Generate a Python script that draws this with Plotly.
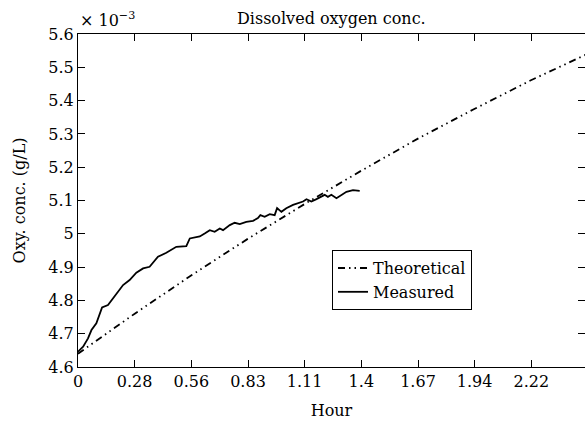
import plotly.graph_objects as go

# Theoretical curve (hours, g/L x 1e-3)
theo_hour = [0, 0.28, 0.56, 0.83, 1.11, 1.39, 1.67, 1.94, 2.22, 2.5]
theo_oxy = [4.640, 4.761, 4.877, 4.984, 5.089, 5.190, 5.287, 5.374, 5.461, 5.541]

# Measured curve
meas_hour = [0.0, 0.025, 0.049, 0.066, 0.090, 0.106, 0.118, 0.147, 0.172, 0.196,
             0.221, 0.253, 0.286, 0.319, 0.351, 0.392, 0.433, 0.482, 0.531, 0.548,
             0.597, 0.621, 0.646, 0.670, 0.695, 0.711, 0.744, 0.768, 0.793, 0.825,
             0.858, 0.882, 0.894, 0.915, 0.940, 0.964, 0.976, 0.997, 1.021, 1.054,
             1.078, 1.103, 1.120, 1.144, 1.169, 1.193, 1.209, 1.225, 1.242, 1.267,
             1.291, 1.316, 1.348, 1.381]
meas_oxy = [4.646, 4.661, 4.686, 4.711, 4.731, 4.756, 4.779, 4.786, 4.806, 4.826,
            4.846, 4.861, 4.883, 4.896, 4.901, 4.931, 4.943, 4.961, 4.963, 4.986,
            4.992, 5.001, 5.011, 5.006, 5.016, 5.011, 5.026, 5.033, 5.029, 5.036,
            5.039, 5.047, 5.056, 5.051, 5.059, 5.056, 5.077, 5.066, 5.077, 5.087,
            5.092, 5.097, 5.104, 5.097, 5.104, 5.111, 5.117, 5.111, 5.117, 5.107,
            5.117, 5.126, 5.131, 5.129]

x_tickvals = [k / 3.6 for k in range(10)]
x_ticktext = ["0", "0.28", "0.56", "0.83", "1.11", "1.4", "1.67", "1.94", "2.22", "2.5"]
y_tickvals = [4.6, 4.7, 4.8, 4.9, 5.0, 5.1, 5.2, 5.3, 5.4, 5.5, 5.6]
y_ticktext = ["4.6", "4.7", "4.8", "4.9", "5", "5.1", "5.2", "5.3", "5.4", "5.5", "5.6"]

FONT = "DejaVu Serif"

fig = go.Figure()
fig.add_trace(go.Scatter(x=theo_hour, y=theo_oxy, mode="lines", name="Theoretical",
                         line=dict(color="black", width=1.8,
                                   dash="7px,4px,1.5px,4px,1.5px,4px")))
fig.add_trace(go.Scatter(x=meas_hour, y=meas_oxy, mode="lines", name="Measured",
                         line=dict(color="black", width=1.8)))

W, H = 585, 428
L, R, T, B = 78, 0, 34, 61
fig.update_layout(
    width=W, height=H,
    margin=dict(l=L, r=R, t=T, b=B),
    paper_bgcolor="white", plot_bgcolor="white",
    font=dict(family=FONT, size=16, color="black"),
    showlegend=True,
    legend=dict(x=0.501, y=0.351, xanchor="left", yanchor="top",
                bordercolor="black", borderwidth=1, bgcolor="white",
                font=dict(family=FONT, size=16), tracegroupgap=0,
                itemwidth=30),
    xaxis=dict(range=[0, 507 / 204], tickvals=x_tickvals, ticktext=x_ticktext,
               ticks="inside", ticklen=7, tickwidth=1.2, tickcolor="black",
               showline=True, linecolor="black", linewidth=1.2, mirror="ticks",
               showgrid=False, zeroline=False,
               title=dict(text="Hour", standoff=14, font=dict(family=FONT, size=16))),
    yaxis=dict(range=[4.6, 5.6], tickvals=y_tickvals, ticktext=y_ticktext,
               ticks="inside", ticklen=7, tickwidth=1.2, tickcolor="black",
               showline=True, linecolor="black", linewidth=1.2, mirror="ticks",
               showgrid=False, zeroline=False,
               title=dict(text="Oxy. conc. (g/L)", standoff=18,
                          font=dict(family=FONT, size=16))),
    annotations=[
        dict(text="Dissolved oxygen conc.", xref="paper", yref="paper",
             x=0.5, y=1.0, xanchor="center", yanchor="bottom", yshift=4,
             showarrow=False, font=dict(family=FONT, size=16)),
        dict(text="× 10<sup>−3</sup>", xref="paper", yref="paper",
             x=0.0, y=1.0, xanchor="left", yanchor="bottom", yshift=2,
             showarrow=False, font=dict(family=FONT, size=16)),
    ],
)

fig.write_html("out.html")
